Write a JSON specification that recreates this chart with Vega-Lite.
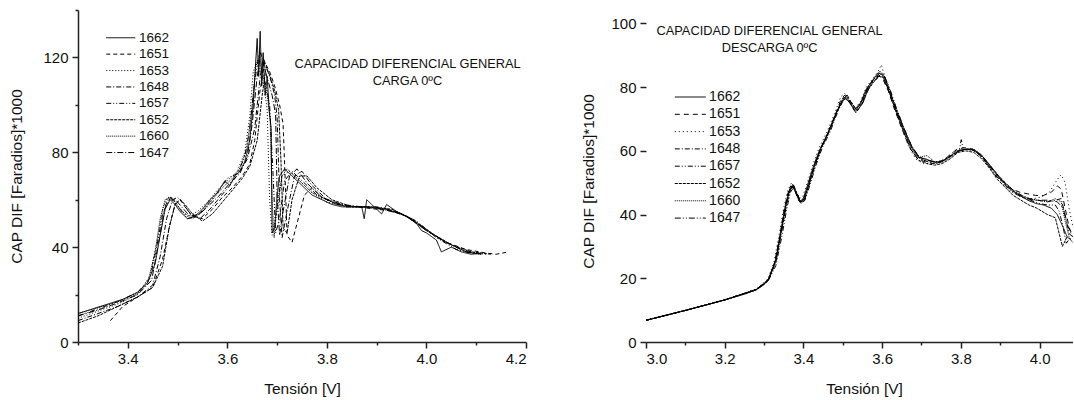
{
"$schema": "https://vega.github.io/schema/vega-lite/v6.json",
"background": "white",
"padding": {"left": 9, "top": 9, "right": 0, "bottom": 0},
"bounds": "flush",
"spacing": 120,
"config": {
  "view": {"stroke": null},
  "font": "Liberation Sans",
  "axis": {"labelFont": "Liberation Sans", "titleFont": "Liberation Sans", "labelFontSize": 15, "titleFontSize": 15.5, "titleFontWeight": "normal", "labelColor": "#111", "titleColor": "#111", "domainColor": "#222", "tickColor": "#222", "domainWidth": 1.5, "tickWidth": 1.5, "labelPadding": 3, "grid": false},
  "legend": {"labelFont": "Liberation Sans"}
},
"resolve": {"scale": {"x": "independent", "y": "independent", "strokeDash": "independent"}, "legend": {"strokeDash": "independent"}},
"datasets": {
"carga": [
{"s":"1662","x":3.30,"y":12},{"s":"1662","x":3.33,"y":14},{"s":"1662","x":3.36,"y":16},{"s":"1662","x":3.39,"y":18},{"s":"1662","x":3.42,"y":21},{"s":"1662","x":3.44,"y":25},{"s":"1662","x":3.455,"y":33},{"s":"1662","x":3.465,"y":45},{"s":"1662","x":3.475,"y":56},{"s":"1662","x":3.485,"y":60},{"s":"1662","x":3.495,"y":58},{"s":"1662","x":3.505,"y":55},{"s":"1662","x":3.52,"y":52},{"s":"1662","x":3.535,"y":53},{"s":"1662","x":3.55,"y":56},{"s":"1662","x":3.565,"y":60},{"s":"1662","x":3.58,"y":63},{"s":"1662","x":3.595,"y":68},{"s":"1662","x":3.605,"y":66},{"s":"1662","x":3.615,"y":70},{"s":"1662","x":3.625,"y":72},{"s":"1662","x":3.635,"y":76},{"s":"1662","x":3.645,"y":85},{"s":"1662","x":3.652,"y":100},{"s":"1662","x":3.657,"y":118},{"s":"1662","x":3.66,"y":128},{"s":"1662","x":3.663,"y":112},{"s":"1662","x":3.666,"y":131},{"s":"1662","x":3.669,"y":108},{"s":"1662","x":3.672,"y":122},{"s":"1662","x":3.676,"y":104},{"s":"1662","x":3.68,"y":112},{"s":"1662","x":3.684,"y":98},{"s":"1662","x":3.688,"y":90},{"s":"1662","x":3.69,"y":46},{"s":"1662","x":3.695,"y":48},{"s":"1662","x":3.70,"y":62},{"s":"1662","x":3.705,"y":70},{"s":"1662","x":3.715,"y":73},{"s":"1662","x":3.73,"y":70},{"s":"1662","x":3.75,"y":66},{"s":"1662","x":3.77,"y":62},{"s":"1662","x":3.79,"y":60},{"s":"1662","x":3.81,"y":58},{"s":"1662","x":3.83,"y":57},{"s":"1662","x":3.85,"y":57},{"s":"1662","x":3.87,"y":57},{"s":"1662","x":3.875,"y":52},{"s":"1662","x":3.88,"y":60},{"s":"1662","x":3.89,"y":58},{"s":"1662","x":3.91,"y":54},{"s":"1662","x":3.92,"y":58},{"s":"1662","x":3.94,"y":55},{"s":"1662","x":3.96,"y":53},{"s":"1662","x":3.98,"y":50},{"s":"1662","x":3.99,"y":47},{"s":"1662","x":4.00,"y":46},{"s":"1662","x":4.02,"y":43},{"s":"1662","x":4.03,"y":38},{"s":"1662","x":4.05,"y":40},{"s":"1662","x":4.07,"y":38},{"s":"1662","x":4.09,"y":37},{"s":"1662","x":4.11,"y":37.5},
{"s":"1651","x":3.365,"y":9},{"s":"1651","x":3.39,"y":15},{"s":"1651","x":3.42,"y":19},{"s":"1651","x":3.45,"y":23},{"s":"1651","x":3.47,"y":35},{"s":"1651","x":3.485,"y":50},{"s":"1651","x":3.495,"y":58},{"s":"1651","x":3.505,"y":60},{"s":"1651","x":3.515,"y":57},{"s":"1651","x":3.53,"y":53},{"s":"1651","x":3.55,"y":52},{"s":"1651","x":3.57,"y":56},{"s":"1651","x":3.59,"y":61},{"s":"1651","x":3.61,"y":65},{"s":"1651","x":3.63,"y":70},{"s":"1651","x":3.645,"y":75},{"s":"1651","x":3.655,"y":85},{"s":"1651","x":3.665,"y":105},{"s":"1651","x":3.675,"y":118},{"s":"1651","x":3.685,"y":114},{"s":"1651","x":3.695,"y":108},{"s":"1651","x":3.705,"y":100},{"s":"1651","x":3.712,"y":92},{"s":"1651","x":3.716,"y":70},{"s":"1651","x":3.72,"y":45},{"s":"1651","x":3.73,"y":42},{"s":"1651","x":3.74,"y":50},{"s":"1651","x":3.755,"y":62},{"s":"1651","x":3.77,"y":65},{"s":"1651","x":3.79,"y":61},{"s":"1651","x":3.82,"y":58},{"s":"1651","x":3.86,"y":57},{"s":"1651","x":3.90,"y":56},{"s":"1651","x":3.94,"y":55},{"s":"1651","x":3.97,"y":52},{"s":"1651","x":4.00,"y":47},{"s":"1651","x":4.04,"y":42},{"s":"1651","x":4.08,"y":39},{"s":"1651","x":4.12,"y":37.5},{"s":"1651","x":4.14,"y":37},{"s":"1651","x":4.165,"y":38},
{"s":"1653","x":3.30,"y":10},{"s":"1653","x":3.34,"y":13},{"s":"1653","x":3.38,"y":16},{"s":"1653","x":3.42,"y":20},{"s":"1653","x":3.445,"y":28},{"s":"1653","x":3.46,"y":44},{"s":"1653","x":3.47,"y":56},{"s":"1653","x":3.48,"y":61},{"s":"1653","x":3.49,"y":60},{"s":"1653","x":3.50,"y":57},{"s":"1653","x":3.52,"y":53},{"s":"1653","x":3.54,"y":55},{"s":"1653","x":3.56,"y":59},{"s":"1653","x":3.58,"y":64},{"s":"1653","x":3.60,"y":68},{"s":"1653","x":3.62,"y":72},{"s":"1653","x":3.635,"y":80},{"s":"1653","x":3.645,"y":95},{"s":"1653","x":3.652,"y":114},{"s":"1653","x":3.66,"y":118},{"s":"1653","x":3.668,"y":112},{"s":"1653","x":3.675,"y":106},{"s":"1653","x":3.68,"y":98},{"s":"1653","x":3.685,"y":60},{"s":"1653","x":3.69,"y":45},{"s":"1653","x":3.70,"y":55},{"s":"1653","x":3.71,"y":70},{"s":"1653","x":3.725,"y":72},{"s":"1653","x":3.745,"y":68},{"s":"1653","x":3.77,"y":63},{"s":"1653","x":3.80,"y":59},{"s":"1653","x":3.84,"y":57},{"s":"1653","x":3.88,"y":57},{"s":"1653","x":3.92,"y":56},{"s":"1653","x":3.96,"y":53},{"s":"1653","x":4.00,"y":47},{"s":"1653","x":4.04,"y":42},{"s":"1653","x":4.08,"y":38},{"s":"1653","x":4.12,"y":37},
{"s":"1648","x":3.30,"y":9},{"s":"1648","x":3.34,"y":12},{"s":"1648","x":3.38,"y":15},{"s":"1648","x":3.42,"y":19},{"s":"1648","x":3.45,"y":24},{"s":"1648","x":3.465,"y":36},{"s":"1648","x":3.478,"y":52},{"s":"1648","x":3.49,"y":60},{"s":"1648","x":3.50,"y":61},{"s":"1648","x":3.51,"y":59},{"s":"1648","x":3.525,"y":54},{"s":"1648","x":3.545,"y":52},{"s":"1648","x":3.565,"y":56},{"s":"1648","x":3.585,"y":61},{"s":"1648","x":3.605,"y":66},{"s":"1648","x":3.625,"y":72},{"s":"1648","x":3.64,"y":77},{"s":"1648","x":3.655,"y":90},{"s":"1648","x":3.665,"y":110},{"s":"1648","x":3.672,"y":120},{"s":"1648","x":3.68,"y":115},{"s":"1648","x":3.688,"y":110},{"s":"1648","x":3.695,"y":104},{"s":"1648","x":3.70,"y":95},{"s":"1648","x":3.705,"y":60},{"s":"1648","x":3.71,"y":44},{"s":"1648","x":3.72,"y":55},{"s":"1648","x":3.735,"y":70},{"s":"1648","x":3.75,"y":72},{"s":"1648","x":3.77,"y":66},{"s":"1648","x":3.80,"y":60},{"s":"1648","x":3.84,"y":57},{"s":"1648","x":3.88,"y":57},{"s":"1648","x":3.92,"y":56},{"s":"1648","x":3.96,"y":53},{"s":"1648","x":4.00,"y":47},{"s":"1648","x":4.04,"y":42},{"s":"1648","x":4.08,"y":38},{"s":"1648","x":4.11,"y":37},
{"s":"1657","x":3.30,"y":11},{"s":"1657","x":3.34,"y":14},{"s":"1657","x":3.38,"y":17},{"s":"1657","x":3.42,"y":21},{"s":"1657","x":3.445,"y":27},{"s":"1657","x":3.458,"y":40},{"s":"1657","x":3.47,"y":54},{"s":"1657","x":3.482,"y":61},{"s":"1657","x":3.492,"y":60},{"s":"1657","x":3.505,"y":56},{"s":"1657","x":3.52,"y":52},{"s":"1657","x":3.54,"y":53},{"s":"1657","x":3.56,"y":58},{"s":"1657","x":3.58,"y":63},{"s":"1657","x":3.60,"y":69},{"s":"1657","x":3.62,"y":71},{"s":"1657","x":3.635,"y":78},{"s":"1657","x":3.645,"y":90},{"s":"1657","x":3.655,"y":110},{"s":"1657","x":3.662,"y":119},{"s":"1657","x":3.67,"y":114},{"s":"1657","x":3.678,"y":108},{"s":"1657","x":3.685,"y":100},{"s":"1657","x":3.692,"y":70},{"s":"1657","x":3.697,"y":46},{"s":"1657","x":3.705,"y":52},{"s":"1657","x":3.715,"y":68},{"s":"1657","x":3.73,"y":72},{"s":"1657","x":3.75,"y":68},{"s":"1657","x":3.78,"y":62},{"s":"1657","x":3.82,"y":58},{"s":"1657","x":3.86,"y":57},{"s":"1657","x":3.90,"y":57},{"s":"1657","x":3.94,"y":55},{"s":"1657","x":3.98,"y":51},{"s":"1657","x":4.02,"y":44},{"s":"1657","x":4.06,"y":39},{"s":"1657","x":4.10,"y":37},
{"s":"1652","x":3.30,"y":8},{"s":"1652","x":3.34,"y":11},{"s":"1652","x":3.38,"y":15},{"s":"1652","x":3.42,"y":19},{"s":"1652","x":3.45,"y":23},{"s":"1652","x":3.47,"y":32},{"s":"1652","x":3.483,"y":48},{"s":"1652","x":3.495,"y":58},{"s":"1652","x":3.505,"y":60},{"s":"1652","x":3.515,"y":58},{"s":"1652","x":3.53,"y":54},{"s":"1652","x":3.55,"y":51},{"s":"1652","x":3.57,"y":54},{"s":"1652","x":3.59,"y":59},{"s":"1652","x":3.61,"y":64},{"s":"1652","x":3.63,"y":69},{"s":"1652","x":3.645,"y":74},{"s":"1652","x":3.66,"y":85},{"s":"1652","x":3.67,"y":104},{"s":"1652","x":3.678,"y":116},{"s":"1652","x":3.686,"y":112},{"s":"1652","x":3.695,"y":106},{"s":"1652","x":3.703,"y":98},{"s":"1652","x":3.708,"y":75},{"s":"1652","x":3.712,"y":48},{"s":"1652","x":3.72,"y":46},{"s":"1652","x":3.73,"y":60},{"s":"1652","x":3.745,"y":70},{"s":"1652","x":3.76,"y":70},{"s":"1652","x":3.78,"y":65},{"s":"1652","x":3.81,"y":60},{"s":"1652","x":3.85,"y":57},{"s":"1652","x":3.89,"y":57},{"s":"1652","x":3.93,"y":56},{"s":"1652","x":3.97,"y":52},{"s":"1652","x":4.01,"y":46},{"s":"1652","x":4.05,"y":41},{"s":"1652","x":4.09,"y":38},{"s":"1652","x":4.13,"y":37},
{"s":"1660","x":3.30,"y":12},{"s":"1660","x":3.34,"y":14.5},{"s":"1660","x":3.38,"y":17},{"s":"1660","x":3.42,"y":20.5},{"s":"1660","x":3.44,"y":25},{"s":"1660","x":3.455,"y":38},{"s":"1660","x":3.465,"y":52},{"s":"1660","x":3.475,"y":60},{"s":"1660","x":3.485,"y":61},{"s":"1660","x":3.495,"y":59},{"s":"1660","x":3.51,"y":55},{"s":"1660","x":3.53,"y":52},{"s":"1660","x":3.55,"y":55},{"s":"1660","x":3.57,"y":60},{"s":"1660","x":3.59,"y":65},{"s":"1660","x":3.61,"y":69},{"s":"1660","x":3.625,"y":73},{"s":"1660","x":3.64,"y":82},{"s":"1660","x":3.65,"y":100},{"s":"1660","x":3.657,"y":116},{"s":"1660","x":3.664,"y":121},{"s":"1660","x":3.672,"y":112},{"s":"1660","x":3.68,"y":104},{"s":"1660","x":3.686,"y":94},{"s":"1660","x":3.69,"y":60},{"s":"1660","x":3.694,"y":44},{"s":"1660","x":3.70,"y":58},{"s":"1660","x":3.71,"y":70},{"s":"1660","x":3.72,"y":73},{"s":"1660","x":3.74,"y":69},{"s":"1660","x":3.77,"y":63},{"s":"1660","x":3.80,"y":60},{"s":"1660","x":3.84,"y":57},{"s":"1660","x":3.88,"y":57},{"s":"1660","x":3.92,"y":56},{"s":"1660","x":3.96,"y":53},{"s":"1660","x":4.00,"y":47},{"s":"1660","x":4.04,"y":42},{"s":"1660","x":4.08,"y":38},{"s":"1660","x":4.11,"y":37},
{"s":"1647","x":3.30,"y":11},{"s":"1647","x":3.34,"y":13.5},{"s":"1647","x":3.38,"y":16.5},{"s":"1647","x":3.42,"y":20},{"s":"1647","x":3.448,"y":26},{"s":"1647","x":3.462,"y":42},{"s":"1647","x":3.474,"y":56},{"s":"1647","x":3.486,"y":61},{"s":"1647","x":3.496,"y":60},{"s":"1647","x":3.508,"y":57},{"s":"1647","x":3.525,"y":53},{"s":"1647","x":3.545,"y":54},{"s":"1647","x":3.565,"y":58},{"s":"1647","x":3.585,"y":62},{"s":"1647","x":3.605,"y":67},{"s":"1647","x":3.625,"y":71},{"s":"1647","x":3.64,"y":78},{"s":"1647","x":3.65,"y":92},{"s":"1647","x":3.66,"y":112},{"s":"1647","x":3.667,"y":122},{"s":"1647","x":3.674,"y":116},{"s":"1647","x":3.682,"y":110},{"s":"1647","x":3.69,"y":104},{"s":"1647","x":3.697,"y":96},{"s":"1647","x":3.70,"y":62},{"s":"1647","x":3.705,"y":45},{"s":"1647","x":3.712,"y":55},{"s":"1647","x":3.725,"y":70},{"s":"1647","x":3.74,"y":73},{"s":"1647","x":3.76,"y":67},{"s":"1647","x":3.79,"y":61},{"s":"1647","x":3.83,"y":58},{"s":"1647","x":3.87,"y":57},{"s":"1647","x":3.91,"y":56},{"s":"1647","x":3.95,"y":54},{"s":"1647","x":3.99,"y":49},{"s":"1647","x":4.03,"y":43},{"s":"1647","x":4.07,"y":39},{"s":"1647","x":4.11,"y":37}
],
"descarga": [
{"s":"1662","x":3.00,"y":6.8},{"s":"1662","x":3.05,"y":8.3},{"s":"1662","x":3.10,"y":9.9},{"s":"1662","x":3.15,"y":11.5},{"s":"1662","x":3.20,"y":13.2},{"s":"1662","x":3.25,"y":15.0},{"s":"1662","x":3.28,"y":16.4},{"s":"1662","x":3.30,"y":18.0},{"s":"1662","x":3.315,"y":20.5},{"s":"1662","x":3.33,"y":26},{"s":"1662","x":3.345,"y":36},{"s":"1662","x":3.355,"y":43},{"s":"1662","x":3.365,"y":48},{"s":"1662","x":3.372,"y":49},{"s":"1662","x":3.38,"y":47},{"s":"1662","x":3.39,"y":44},{"s":"1662","x":3.40,"y":45},{"s":"1662","x":3.41,"y":49},{"s":"1662","x":3.425,"y":55},{"s":"1662","x":3.44,"y":60},{"s":"1662","x":3.46,"y":65},{"s":"1662","x":3.48,"y":71},{"s":"1662","x":3.495,"y":75},{"s":"1662","x":3.505,"y":76.5},{"s":"1662","x":3.515,"y":75.5},{"s":"1662","x":3.53,"y":73},{"s":"1662","x":3.545,"y":75},{"s":"1662","x":3.56,"y":79.5},{"s":"1662","x":3.575,"y":82},{"s":"1662","x":3.59,"y":84.5},{"s":"1662","x":3.60,"y":84},{"s":"1662","x":3.615,"y":79.5},{"s":"1662","x":3.63,"y":74.5},{"s":"1662","x":3.65,"y":68},{"s":"1662","x":3.67,"y":62},{"s":"1662","x":3.69,"y":58},{"s":"1662","x":3.71,"y":57.5},{"s":"1662","x":3.73,"y":56.5},{"s":"1662","x":3.75,"y":56.5},{"s":"1662","x":3.77,"y":58},{"s":"1662","x":3.79,"y":60},{"s":"1662","x":3.81,"y":60.5},{"s":"1662","x":3.83,"y":60.5},{"s":"1662","x":3.85,"y":59},{"s":"1662","x":3.87,"y":56},{"s":"1662","x":3.89,"y":53},{"s":"1662","x":3.91,"y":50},{"s":"1662","x":3.93,"y":47.5},{"s":"1662","x":3.95,"y":46},{"s":"1662","x":3.97,"y":44.5},{"s":"1662","x":3.99,"y":43.5},{"s":"1662","x":4.01,"y":43},{"s":"1662","x":4.03,"y":42},{"s":"1662","x":4.045,"y":40},{"s":"1662","x":4.06,"y":36},{"s":"1662","x":4.07,"y":33},{"s":"1662","x":4.08,"y":32},
{"s":"1651","x":3.00,"y":6.8},{"s":"1651","x":3.10,"y":9.9},{"s":"1651","x":3.20,"y":13.2},{"s":"1651","x":3.28,"y":16.5},{"s":"1651","x":3.31,"y":19.5},{"s":"1651","x":3.325,"y":24},{"s":"1651","x":3.34,"y":33},{"s":"1651","x":3.35,"y":41},{"s":"1651","x":3.36,"y":46.5},{"s":"1651","x":3.368,"y":49},{"s":"1651","x":3.377,"y":48},{"s":"1651","x":3.387,"y":44.5},{"s":"1651","x":3.397,"y":44},{"s":"1651","x":3.41,"y":48},{"s":"1651","x":3.425,"y":54},{"s":"1651","x":3.44,"y":59.5},{"s":"1651","x":3.46,"y":65},{"s":"1651","x":3.48,"y":71},{"s":"1651","x":3.495,"y":76},{"s":"1651","x":3.505,"y":77.5},{"s":"1651","x":3.515,"y":76},{"s":"1651","x":3.53,"y":72.5},{"s":"1651","x":3.545,"y":74.5},{"s":"1651","x":3.56,"y":79},{"s":"1651","x":3.575,"y":82},{"s":"1651","x":3.59,"y":83.5},{"s":"1651","x":3.60,"y":83},{"s":"1651","x":3.615,"y":79},{"s":"1651","x":3.63,"y":73.5},{"s":"1651","x":3.65,"y":67},{"s":"1651","x":3.67,"y":61},{"s":"1651","x":3.69,"y":57.5},{"s":"1651","x":3.71,"y":56.5},{"s":"1651","x":3.73,"y":56},{"s":"1651","x":3.75,"y":56.5},{"s":"1651","x":3.77,"y":58.5},{"s":"1651","x":3.79,"y":60.5},{"s":"1651","x":3.81,"y":61},{"s":"1651","x":3.83,"y":60.5},{"s":"1651","x":3.85,"y":58.5},{"s":"1651","x":3.87,"y":55.5},{"s":"1651","x":3.89,"y":52.5},{"s":"1651","x":3.91,"y":50},{"s":"1651","x":3.93,"y":48},{"s":"1651","x":3.95,"y":47},{"s":"1651","x":3.97,"y":46.5},{"s":"1651","x":3.99,"y":46},{"s":"1651","x":4.01,"y":46},{"s":"1651","x":4.03,"y":47},{"s":"1651","x":4.045,"y":49},{"s":"1651","x":4.055,"y":48},{"s":"1651","x":4.065,"y":42},{"s":"1651","x":4.075,"y":36},{"s":"1651","x":4.085,"y":33},
{"s":"1653","x":3.00,"y":6.8},{"s":"1653","x":3.10,"y":9.9},{"s":"1653","x":3.20,"y":13.2},{"s":"1653","x":3.28,"y":16.6},{"s":"1653","x":3.31,"y":19.8},{"s":"1653","x":3.325,"y":25},{"s":"1653","x":3.34,"y":35},{"s":"1653","x":3.35,"y":42},{"s":"1653","x":3.36,"y":47.5},{"s":"1653","x":3.37,"y":50},{"s":"1653","x":3.378,"y":48},{"s":"1653","x":3.388,"y":45},{"s":"1653","x":3.398,"y":45.5},{"s":"1653","x":3.41,"y":50},{"s":"1653","x":3.425,"y":56},{"s":"1653","x":3.44,"y":61},{"s":"1653","x":3.46,"y":66},{"s":"1653","x":3.48,"y":72},{"s":"1653","x":3.495,"y":77},{"s":"1653","x":3.505,"y":78},{"s":"1653","x":3.515,"y":76},{"s":"1653","x":3.53,"y":73},{"s":"1653","x":3.545,"y":75.5},{"s":"1653","x":3.56,"y":80},{"s":"1653","x":3.575,"y":82.5},{"s":"1653","x":3.59,"y":85},{"s":"1653","x":3.598,"y":87},{"s":"1653","x":3.61,"y":82},{"s":"1653","x":3.625,"y":76},{"s":"1653","x":3.645,"y":69},{"s":"1653","x":3.665,"y":62},{"s":"1653","x":3.685,"y":57.5},{"s":"1653","x":3.705,"y":56},{"s":"1653","x":3.725,"y":56},{"s":"1653","x":3.745,"y":56.5},{"s":"1653","x":3.765,"y":58},{"s":"1653","x":3.785,"y":60},{"s":"1653","x":3.805,"y":60.5},{"s":"1653","x":3.825,"y":60.5},{"s":"1653","x":3.845,"y":59},{"s":"1653","x":3.865,"y":56.5},{"s":"1653","x":3.885,"y":53},{"s":"1653","x":3.905,"y":50},{"s":"1653","x":3.925,"y":47.5},{"s":"1653","x":3.945,"y":46},{"s":"1653","x":3.965,"y":45},{"s":"1653","x":3.985,"y":45},{"s":"1653","x":4.005,"y":45.5},{"s":"1653","x":4.025,"y":47},{"s":"1653","x":4.045,"y":51},{"s":"1653","x":4.055,"y":52.5},{"s":"1653","x":4.065,"y":50},{"s":"1653","x":4.075,"y":42},{"s":"1653","x":4.085,"y":36},
{"s":"1648","x":3.00,"y":6.8},{"s":"1648","x":3.10,"y":9.9},{"s":"1648","x":3.20,"y":13.2},{"s":"1648","x":3.28,"y":16.4},{"s":"1648","x":3.31,"y":19.2},{"s":"1648","x":3.33,"y":25},{"s":"1648","x":3.345,"y":35},{"s":"1648","x":3.357,"y":43},{"s":"1648","x":3.366,"y":47.5},{"s":"1648","x":3.374,"y":49.5},{"s":"1648","x":3.383,"y":47},{"s":"1648","x":3.393,"y":44},{"s":"1648","x":3.403,"y":45},{"s":"1648","x":3.415,"y":50},{"s":"1648","x":3.43,"y":56},{"s":"1648","x":3.445,"y":61},{"s":"1648","x":3.465,"y":66},{"s":"1648","x":3.485,"y":72},{"s":"1648","x":3.50,"y":76.5},{"s":"1648","x":3.51,"y":77},{"s":"1648","x":3.52,"y":75.5},{"s":"1648","x":3.535,"y":73},{"s":"1648","x":3.55,"y":76},{"s":"1648","x":3.565,"y":80},{"s":"1648","x":3.58,"y":82.5},{"s":"1648","x":3.595,"y":84.5},{"s":"1648","x":3.605,"y":83.5},{"s":"1648","x":3.62,"y":78.5},{"s":"1648","x":3.635,"y":73},{"s":"1648","x":3.655,"y":67},{"s":"1648","x":3.675,"y":61.5},{"s":"1648","x":3.695,"y":58},{"s":"1648","x":3.715,"y":57},{"s":"1648","x":3.735,"y":56.5},{"s":"1648","x":3.755,"y":57},{"s":"1648","x":3.775,"y":58.5},{"s":"1648","x":3.795,"y":60},{"s":"1648","x":3.815,"y":60.5},{"s":"1648","x":3.835,"y":60},{"s":"1648","x":3.855,"y":58},{"s":"1648","x":3.875,"y":55},{"s":"1648","x":3.895,"y":52},{"s":"1648","x":3.915,"y":49.5},{"s":"1648","x":3.935,"y":47.5},{"s":"1648","x":3.955,"y":46},{"s":"1648","x":3.975,"y":45},{"s":"1648","x":3.995,"y":44.5},{"s":"1648","x":4.02,"y":44},{"s":"1648","x":4.04,"y":44.5},{"s":"1648","x":4.055,"y":45},{"s":"1648","x":4.065,"y":40},{"s":"1648","x":4.075,"y":34},{"s":"1648","x":4.085,"y":33},
{"s":"1657","x":3.00,"y":6.8},{"s":"1657","x":3.10,"y":9.9},{"s":"1657","x":3.20,"y":13.2},{"s":"1657","x":3.28,"y":16.3},{"s":"1657","x":3.31,"y":19},{"s":"1657","x":3.33,"y":24},{"s":"1657","x":3.345,"y":33},{"s":"1657","x":3.358,"y":42},{"s":"1657","x":3.367,"y":47},{"s":"1657","x":3.375,"y":48.5},{"s":"1657","x":3.384,"y":46.5},{"s":"1657","x":3.394,"y":43.5},{"s":"1657","x":3.404,"y":44.5},{"s":"1657","x":3.417,"y":49.5},{"s":"1657","x":3.432,"y":55.5},{"s":"1657","x":3.448,"y":61},{"s":"1657","x":3.468,"y":66},{"s":"1657","x":3.488,"y":72.5},{"s":"1657","x":3.502,"y":76},{"s":"1657","x":3.512,"y":76.5},{"s":"1657","x":3.522,"y":75},{"s":"1657","x":3.537,"y":72.5},{"s":"1657","x":3.552,"y":75.5},{"s":"1657","x":3.567,"y":80},{"s":"1657","x":3.582,"y":82.5},{"s":"1657","x":3.597,"y":84},{"s":"1657","x":3.607,"y":83},{"s":"1657","x":3.622,"y":78},{"s":"1657","x":3.637,"y":72.5},{"s":"1657","x":3.657,"y":66.5},{"s":"1657","x":3.677,"y":61},{"s":"1657","x":3.697,"y":57.5},{"s":"1657","x":3.717,"y":56.5},{"s":"1657","x":3.737,"y":56},{"s":"1657","x":3.757,"y":57},{"s":"1657","x":3.777,"y":58.5},{"s":"1657","x":3.797,"y":60},{"s":"1657","x":3.817,"y":60.5},{"s":"1657","x":3.837,"y":60},{"s":"1657","x":3.857,"y":58},{"s":"1657","x":3.877,"y":55},{"s":"1657","x":3.897,"y":51.5},{"s":"1657","x":3.917,"y":49},{"s":"1657","x":3.937,"y":47},{"s":"1657","x":3.957,"y":45.5},{"s":"1657","x":3.977,"y":44.5},{"s":"1657","x":3.997,"y":43.5},{"s":"1657","x":4.02,"y":43},{"s":"1657","x":4.04,"y":43},{"s":"1657","x":4.05,"y":41},{"s":"1657","x":4.06,"y":36},{"s":"1657","x":4.068,"y":31},{"s":"1657","x":4.08,"y":33},
{"s":"1652","x":3.00,"y":6.8},{"s":"1652","x":3.10,"y":9.9},{"s":"1652","x":3.20,"y":13.2},{"s":"1652","x":3.28,"y":16.5},{"s":"1652","x":3.31,"y":19.3},{"s":"1652","x":3.328,"y":25},{"s":"1652","x":3.342,"y":34},{"s":"1652","x":3.354,"y":42},{"s":"1652","x":3.364,"y":47},{"s":"1652","x":3.372,"y":49},{"s":"1652","x":3.381,"y":47},{"s":"1652","x":3.391,"y":44},{"s":"1652","x":3.401,"y":44.5},{"s":"1652","x":3.413,"y":49},{"s":"1652","x":3.428,"y":55},{"s":"1652","x":3.443,"y":60.5},{"s":"1652","x":3.463,"y":65.5},{"s":"1652","x":3.483,"y":71.5},{"s":"1652","x":3.498,"y":75.5},{"s":"1652","x":3.508,"y":76.5},{"s":"1652","x":3.518,"y":75},{"s":"1652","x":3.533,"y":72},{"s":"1652","x":3.548,"y":74.5},{"s":"1652","x":3.563,"y":79},{"s":"1652","x":3.578,"y":81.5},{"s":"1652","x":3.593,"y":83.5},{"s":"1652","x":3.603,"y":83},{"s":"1652","x":3.618,"y":78.5},{"s":"1652","x":3.633,"y":73},{"s":"1652","x":3.653,"y":66.5},{"s":"1652","x":3.673,"y":60.5},{"s":"1652","x":3.693,"y":57},{"s":"1652","x":3.713,"y":56},{"s":"1652","x":3.733,"y":55.5},{"s":"1652","x":3.753,"y":56},{"s":"1652","x":3.773,"y":57.5},{"s":"1652","x":3.793,"y":59.5},{"s":"1652","x":3.813,"y":60},{"s":"1652","x":3.833,"y":59.5},{"s":"1652","x":3.853,"y":57.5},{"s":"1652","x":3.873,"y":54.5},{"s":"1652","x":3.893,"y":51},{"s":"1652","x":3.913,"y":48.5},{"s":"1652","x":3.933,"y":46},{"s":"1652","x":3.953,"y":44.5},{"s":"1652","x":3.973,"y":43},{"s":"1652","x":3.993,"y":42},{"s":"1652","x":4.02,"y":40},{"s":"1652","x":4.04,"y":39},{"s":"1652","x":4.05,"y":34},{"s":"1652","x":4.058,"y":30},{"s":"1652","x":4.07,"y":33},
{"s":"1660","x":3.00,"y":6.9},{"s":"1660","x":3.10,"y":10},{"s":"1660","x":3.20,"y":13.3},{"s":"1660","x":3.28,"y":16.5},{"s":"1660","x":3.31,"y":19.5},{"s":"1660","x":3.33,"y":26},{"s":"1660","x":3.345,"y":37},{"s":"1660","x":3.356,"y":44},{"s":"1660","x":3.366,"y":48.5},{"s":"1660","x":3.373,"y":49.5},{"s":"1660","x":3.382,"y":47},{"s":"1660","x":3.392,"y":44},{"s":"1660","x":3.402,"y":45.5},{"s":"1660","x":3.414,"y":50.5},{"s":"1660","x":3.429,"y":56},{"s":"1660","x":3.444,"y":60.5},{"s":"1660","x":3.464,"y":66},{"s":"1660","x":3.484,"y":72},{"s":"1660","x":3.499,"y":76},{"s":"1660","x":3.509,"y":77},{"s":"1660","x":3.519,"y":75.5},{"s":"1660","x":3.534,"y":73},{"s":"1660","x":3.549,"y":75.5},{"s":"1660","x":3.564,"y":80},{"s":"1660","x":3.579,"y":82.5},{"s":"1660","x":3.594,"y":85},{"s":"1660","x":3.604,"y":84},{"s":"1660","x":3.619,"y":79},{"s":"1660","x":3.634,"y":74},{"s":"1660","x":3.654,"y":67.5},{"s":"1660","x":3.674,"y":61.5},{"s":"1660","x":3.694,"y":58},{"s":"1660","x":3.714,"y":58.5},{"s":"1660","x":3.734,"y":56.5},{"s":"1660","x":3.754,"y":56.5},{"s":"1660","x":3.774,"y":58},{"s":"1660","x":3.794,"y":60},{"s":"1660","x":3.814,"y":60.5},{"s":"1660","x":3.834,"y":60.5},{"s":"1660","x":3.854,"y":58.5},{"s":"1660","x":3.874,"y":55.5},{"s":"1660","x":3.894,"y":52.5},{"s":"1660","x":3.914,"y":50},{"s":"1660","x":3.934,"y":47.5},{"s":"1660","x":3.954,"y":46},{"s":"1660","x":3.974,"y":45},{"s":"1660","x":3.994,"y":44.5},{"s":"1660","x":4.02,"y":44},{"s":"1660","x":4.04,"y":45},{"s":"1660","x":4.055,"y":44},{"s":"1660","x":4.065,"y":38},{"s":"1660","x":4.075,"y":33},{"s":"1660","x":4.085,"y":31},
{"s":"1647","x":3.00,"y":6.8},{"s":"1647","x":3.10,"y":9.9},{"s":"1647","x":3.20,"y":13.2},{"s":"1647","x":3.28,"y":16.4},{"s":"1647","x":3.31,"y":19.2},{"s":"1647","x":3.33,"y":25.5},{"s":"1647","x":3.346,"y":36},{"s":"1647","x":3.358,"y":44},{"s":"1647","x":3.367,"y":48},{"s":"1647","x":3.375,"y":49},{"s":"1647","x":3.384,"y":46.5},{"s":"1647","x":3.394,"y":43.5},{"s":"1647","x":3.404,"y":45},{"s":"1647","x":3.416,"y":50},{"s":"1647","x":3.431,"y":56},{"s":"1647","x":3.446,"y":61},{"s":"1647","x":3.466,"y":66.5},{"s":"1647","x":3.486,"y":72.5},{"s":"1647","x":3.501,"y":76.5},{"s":"1647","x":3.511,"y":77.5},{"s":"1647","x":3.521,"y":75.5},{"s":"1647","x":3.536,"y":72.5},{"s":"1647","x":3.551,"y":75},{"s":"1647","x":3.566,"y":79.5},{"s":"1647","x":3.581,"y":82},{"s":"1647","x":3.596,"y":84},{"s":"1647","x":3.606,"y":83.5},{"s":"1647","x":3.621,"y":79},{"s":"1647","x":3.636,"y":73.5},{"s":"1647","x":3.656,"y":67},{"s":"1647","x":3.676,"y":61},{"s":"1647","x":3.696,"y":57.5},{"s":"1647","x":3.716,"y":57},{"s":"1647","x":3.736,"y":56.5},{"s":"1647","x":3.756,"y":57},{"s":"1647","x":3.776,"y":58.5},{"s":"1647","x":3.796,"y":60},{"s":"1647","x":3.801,"y":63.5},{"s":"1647","x":3.806,"y":60.5},{"s":"1647","x":3.826,"y":60.5},{"s":"1647","x":3.846,"y":59},{"s":"1647","x":3.866,"y":56},{"s":"1647","x":3.886,"y":52.5},{"s":"1647","x":3.906,"y":50},{"s":"1647","x":3.926,"y":47.5},{"s":"1647","x":3.946,"y":46},{"s":"1647","x":3.966,"y":45},{"s":"1647","x":3.986,"y":44.5},{"s":"1647","x":4.02,"y":44.5},{"s":"1647","x":4.045,"y":44},{"s":"1647","x":4.06,"y":42},{"s":"1647","x":4.07,"y":37},{"s":"1647","x":4.08,"y":34}
]
},
"hconcat": [
{
  "width": 448,
  "height": 332,
  "layer": [
    {
      "data": {"name": "carga"},
      "mark": {"type": "line", "strokeWidth": 1, "color": "black", "clip": true},
      "encoding": {
        "x": {"field": "x", "type": "quantitative", "scale": {"domain": [3.3, 4.2], "nice": false, "zero": false},
              "axis": {"values": [3.3,3.4,3.5,3.6,3.7,3.8,3.9,4.0,4.1,4.2], "labelExpr": "round(datum.value*10)%2===0 ? format(datum.value,'.1f') : ''", "tickSize": {"condition": {"test": "round(datum.value*10)%2===0", "value": 6}, "value": 3}, "title": "Tensión [V]", "titleY": 46, "titleBaseline": "middle"}},
        "y": {"field": "y", "type": "quantitative", "scale": {"domain": [0, 140], "nice": false},
              "axis": {"values": [0,20,40,60,80,100,120,140], "labelExpr": "datum.value%40===0 ? datum.label : ''", "tickSize": {"condition": {"test": "datum.value%40===0", "value": 6}, "value": 3}, "labelPadding": 4, "title": "CAP DIF [Faradios]*1000", "titleX": -62, "titleBaseline": "middle"}},
        "strokeDash": {"field": "s", "type": "nominal",
              "scale": {"domain": ["1662","1651","1653","1648","1657","1652","1660","1647"], "range": [[1,0],[4,3],[1,2],[5,2,1,2],[5,2,1,2,1,2],[3,1],[1,1],[6,2,1,2]]},
              "legend": {"orient": "none", "legendX": 36, "legendY": 21, "title": null, "symbolType": "M-2.5,0H2.5", "symbolSize": 134.6, "symbolStrokeWidth": 1, "symbolStrokeColor": "black", "labelFontSize": 13.5, "labelColor": "#111", "rowPadding": 1.4, "labelOffset": 11.4, "padding": 0}}
      }
    },
    {
      "data": {"values": [{"x": 3.962, "y": 117.2, "t": "CAPACIDAD DIFERENCIAL GENERAL"}, {"x": 3.962, "y": 110.2, "t": "CARGA 0ºC"}]},
      "mark": {"type": "text", "fontSize": 12.8, "align": "center", "baseline": "middle", "color": "#111"},
      "encoding": {"x": {"field": "x", "type": "quantitative"}, "y": {"field": "y", "type": "quantitative"}, "text": {"field": "t"}}
    }
  ]
},
{
  "width": 427,
  "height": 332,
  "layer": [
    {
      "data": {"name": "descarga"},
      "mark": {"type": "line", "strokeWidth": 1, "color": "black", "clip": true},
      "encoding": {
        "x": {"field": "x", "type": "quantitative", "scale": {"domain": [3.0, 4.085], "nice": false, "zero": false},
              "axis": {"values": [3.0,3.1,3.2,3.3,3.4,3.5,3.6,3.7,3.8,3.9,4.0], "labelExpr": "round(datum.value*10)%2===0 ? format(datum.value,'.1f') : ''", "tickSize": {"condition": {"test": "round(datum.value*10)%2===0", "value": 6}, "value": 3}, "title": "Tensión [V]", "titleX": 218, "titleY": 46, "titleBaseline": "middle"}},
        "y": {"field": "y", "type": "quantitative", "scale": {"domain": [0, 104.2], "nice": false},
              "axis": {"values": [0,10,20,30,40,50,60,70,80,90,100], "domain": false, "labelExpr": "datum.value%20===0 ? datum.label : ''", "tickSize": {"condition": {"test": "datum.value%20===0", "value": 6}, "value": 3}, "labelPadding": 4, "title": "CAP DIF [Faradios]*1000", "titleX": -58, "titleY": 171, "titleBaseline": "middle"}},
        "strokeDash": {"field": "s", "type": "nominal",
              "scale": {"domain": ["1662","1651","1653","1648","1657","1652","1660","1647"], "range": [[1,0],[5,4],[1,3],[5,2,1,2],[5,2,1,2,1,2],[3,1],[1,1],[6,2,1,2,1,2]]},
              "legend": {"orient": "none", "legendX": 37.3, "legendY": 80, "title": null, "symbolType": "M-2.5,0H2.5", "symbolSize": 153.8, "symbolStrokeWidth": 1, "symbolStrokeColor": "black", "labelFontSize": 14, "labelColor": "#111", "rowPadding": 3.3, "labelOffset": 11.8, "padding": 0}}
      }
    },
    {
      "mark": {"type": "rule", "color": "#222", "strokeWidth": 1.5},
      "encoding": {"x": {"datum": 3.0, "type": "quantitative"}, "y": {"datum": 0, "type": "quantitative"}, "y2": {"datum": 100}}
    },
    {
      "data": {"values": [{"x": 3.314, "y": 97.5, "t": "CAPACIDAD DIFERENCIAL GENERAL"}, {"x": 3.314, "y": 92.4, "t": "DESCARGA 0ºC"}]},
      "mark": {"type": "text", "fontSize": 12.8, "align": "center", "baseline": "middle", "color": "#111"},
      "encoding": {"x": {"field": "x", "type": "quantitative"}, "y": {"field": "y", "type": "quantitative"}, "text": {"field": "t"}}
    }
  ]
}
]
}
